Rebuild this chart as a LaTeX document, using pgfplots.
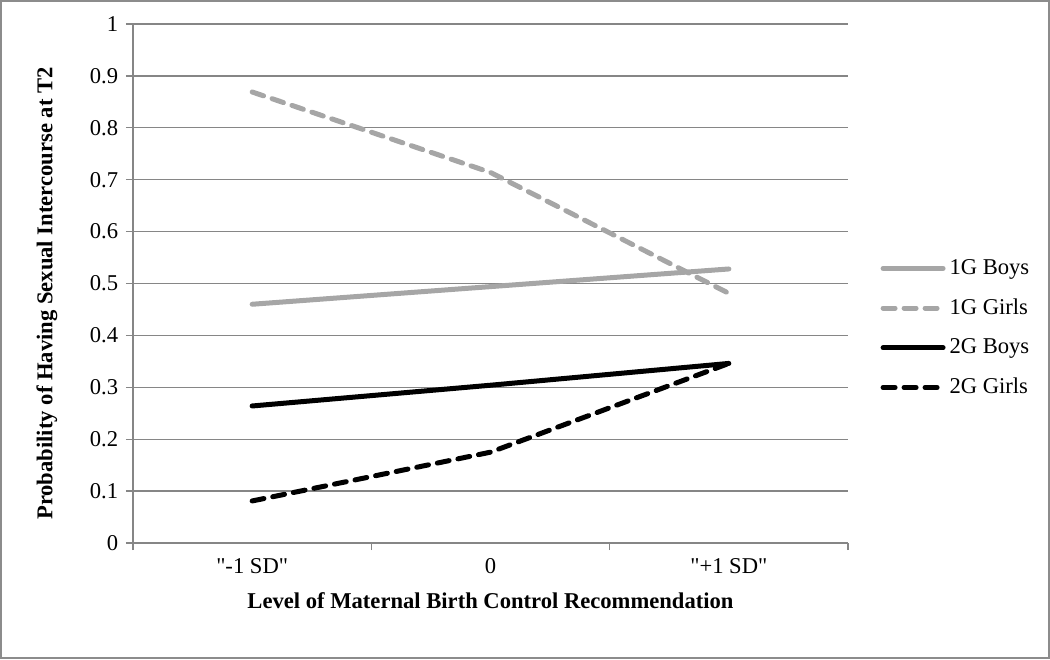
\documentclass[border=0pt]{standalone}
\usepackage{pgfplots}
\pgfplotsset{compat=1.18}
\usepackage{fontspec}
\setmainfont{Liberation Serif}[Ligatures=TeXOff]
\definecolor{axgray}{RGB}{134,134,134}
\definecolor{sergray}{RGB}{166,166,166}
\definecolor{frame}{RGB}{140,140,140}
\begin{document}
\fontsize{11.3}{13.5}\selectfont
\begin{tikzpicture}
\useasboundingbox (0,0) rectangle (525pt,329.5pt);
\draw[frame, line width=1pt] (0.5pt,0.5pt) rectangle (524.5pt,329pt);
\begin{axis}[
  at={(66.5pt,58pt)}, anchor=south west,
  scale only axis, width=357.5pt, height=259.5pt,
  xmin=-0.5, xmax=2.5, ymin=0, ymax=1,
  axis lines*=left,
  axis line style={axgray, line width=0.7pt},
  xtick={-0.5,0.5,1.5,2.5}, xticklabels={},
  extra x ticks={0,1,2},
  extra x tick labels={{"-1 SD"},{0},{"+1 SD"}},
  extra x tick style={major tick length=0pt, xticklabel style={yshift=-4pt}},
  ytick={0,0.1,...,1.0},
  yticklabels={0,0.1,0.2,0.3,0.4,0.5,0.6,0.7,0.8,0.9,1},
  tick align=outside,
  major tick length=3.5pt,
  tick style={axgray, line width=0.7pt},
  ymajorgrids,
  grid style={axgray, line width=0.7pt},
  /pgf/number format/assume math mode=true,
  xlabel={\textbf{Level of Maternal Birth Control Recommendation}},
  ylabel={\textbf{Probability of Having Sexual Intercourse at T2}},
  xlabel style={at={(rel axis cs:0.5,-0.1118)}, anchor=center},
  ylabel style={at={(rel axis cs:-0.1203,0.4807)}, anchor=center},
  legend style={at={(rel axis cs:1.045,0.414)}, anchor=west, draw=none, fill=none,
    row sep=6.5pt, font=\fontsize{11.3}{13.5}\selectfont, inner sep=0pt},
  legend cell align=left,
  legend image code/.code={\draw[#1] (0pt,0pt) -- (30pt,0pt);},
  clip=false,
]
\addplot[sergray, line width=2.5pt, line cap=round] coordinates {(0,0.460) (1,0.494) (2,0.528)};
\addlegendentry{1G Boys}
\addplot[sergray, line width=2.5pt, line cap=round, dash pattern=on 6pt off 4.5pt] coordinates {(0,0.869) (1,0.714) (2,0.481)};
\addlegendentry{1G Girls}
\addplot[black, line width=2.5pt, line cap=round] coordinates {(0,0.264) (1,0.304) (2,0.346)};
\addlegendentry{2G Boys}
\addplot[black, line width=2.5pt, line cap=round, dash pattern=on 6pt off 4.5pt] coordinates {(0,0.081) (1,0.175) (2,0.346)};
\addlegendentry{2G Girls}
\end{axis}
\end{tikzpicture}
\end{document}
